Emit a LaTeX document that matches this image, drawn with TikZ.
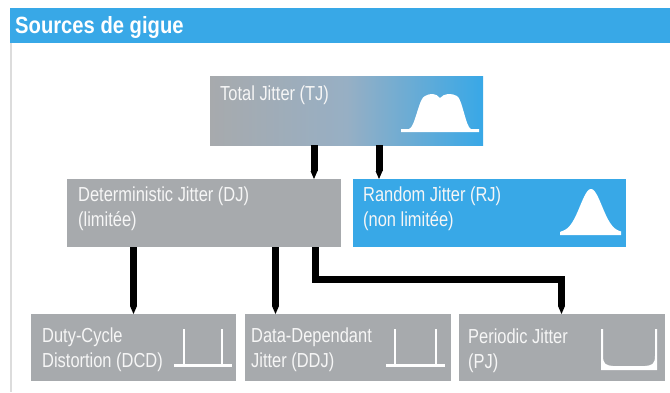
\documentclass[tikz,border=0pt]{standalone}
\usepackage{fontspec}
\setmainfont{Liberation Sans}
\newfontfamily\condfont[FakeStretch=0.81]{Liberation Sans}
\newfontfamily\titlefont[FakeStretch=0.86]{Liberation Sans}
\usetikzlibrary{arrows.meta}
\definecolor{boxgray}{HTML}{A7AAAD}
\definecolor{boxblue}{HTML}{38A8E7}
\definecolor{midgray}{HTML}{97AFC4}
\definecolor{bordergray}{HTML}{DCDCDC}
\definecolor{txtcol}{HTML}{F6F6F6}
\tikzset{
  box/.style={draw=none, anchor=north west, inner sep=0pt, outer sep=0pt},
  lbl/.style={anchor=base west, inner sep=0pt, text=txtcol, font=\condfont\fontsize{20.3}{25}\selectfont},
  conn/.style={line width=7pt, line join=miter, -{Triangle[length=8pt,width=7pt,line width=0pt]}},
  icon/.style={fill=white}
}
\begin{document}
\begin{tikzpicture}[x=1pt,y=-1pt]
\useasboundingbox (0,0) rectangle (670,392);
\fill[white] (0,0) rectangle (670,392);
% title bar and border
\node[box, fill=boxblue, minimum width=660pt, minimum height=35pt] (bar) at (10,8) {};
\node[anchor=base west, inner sep=0pt, text=white, font=\titlefont\bfseries\fontsize{23.5}{26}\selectfont] (title) at (15,33.5) {Sources de gigue};
\draw[bordergray, line width=2pt] (11,43) -- (11,392);
% boxes
\node[box, left color=boxgray, right color=boxblue, middle color=midgray, minimum width=273pt, minimum height=69pt] (tj) at (210,76) {};
\node[box, fill=boxgray, minimum width=274pt, minimum height=68pt] (dj) at (67,179) {};
\node[box, fill=boxblue, minimum width=273pt, minimum height=68pt] (rj) at (353,179) {};
\node[box, fill=boxgray, minimum width=205pt, minimum height=67pt] (dcd) at (31,314) {};
\node[box, fill=boxgray, minimum width=206pt, minimum height=67pt] (ddj) at (245,314) {};
\node[box, fill=boxgray, minimum width=206pt, minimum height=67pt] (pj) at (459,314) {};
% labels
\node[lbl] (tjt) at (220,100) {Total Jitter (TJ)};
\node[lbl] (djt1) at (78,201.5) {Deterministic Jitter (DJ)};
\node[lbl] (djt2) at (78,226.5) {(limitée)};
\node[lbl] (rjt1) at (363,201.5) {Random Jitter (RJ)};
\node[lbl] (rjt2) at (363,226.5) {(non limitée)};
\node[lbl] (dcdt1) at (42,342) {Duty-Cycle};
\node[lbl] (dcdt2) at (42,367) {Distortion (DCD)};
\node[lbl] (ddjt1) at (251,342) {Data-Dependant};
\node[lbl] (ddjt2) at (251,367) {Jitter (DDJ)};
\node[lbl] (pjt1) at (468,343) {Periodic Jitter};
\node[lbl] (pjt2) at (468,368) {(PJ)};
% icons
\fill[icon] (401,132) -- (401,129) -- (409,129) .. controls (415,128) and (419,97) .. (425,96)
  .. controls (430,93) and (436,93) .. (440,98) .. controls (444,93) and (452,93) .. (457,96)
  .. controls (462,98) and (466,128) .. (471,129) -- (479,129) -- (479,132) -- cycle;
\fill[icon] (560,235) -- (560,232.5) -- plot[domain=-30:30, samples=61, smooth] ({591+\x},{232.5-43.5*exp(-(\x)^2/242)}) -- (621,232.5) -- (621,235) -- cycle;
\fill[icon] (183,329) rectangle (185,365);
\fill[icon] (221,329) rectangle (223,365);
\fill[icon] (174,363.5) rectangle (232,367);
\fill[icon] (394,329) rectangle (396,365);
\fill[icon] (435,329) rectangle (437,365);
\fill[icon] (386,363.5) rectangle (445,367);
\fill[icon] (601,329) -- (601,370) -- (657,370) -- (657,329) -- (655,329) -- (655,356)
  .. controls (655,364) and (652,365.5) .. (645,366) -- (613,366)
  .. controls (606,365.5) and (603,364) .. (603,356) -- (603,329) -- cycle;
% connectors
\coordinate (x1) at (314,0);
\coordinate (x2) at (379,0);
\coordinate (x3) at (133.5,0);
\coordinate (x4) at (275.5,0);
\coordinate (elbow) at (315.5,279.5);
\coordinate (x5) at (561.5,0);
\draw[conn] (x1 |- tj.south) -- (x1 |- dj.north);
\draw[conn] (x2 |- tj.south) -- (x2 |- rj.north);
\draw[conn] (x3 |- dj.south) -- (x3 |- dcd.north);
\draw[conn] (x4 |- dj.south) -- (x4 |- ddj.north);
\draw[conn] (elbow |- dj.south) -- (elbow) -| (x5 |- pj.north);
\end{tikzpicture}
\end{document}
